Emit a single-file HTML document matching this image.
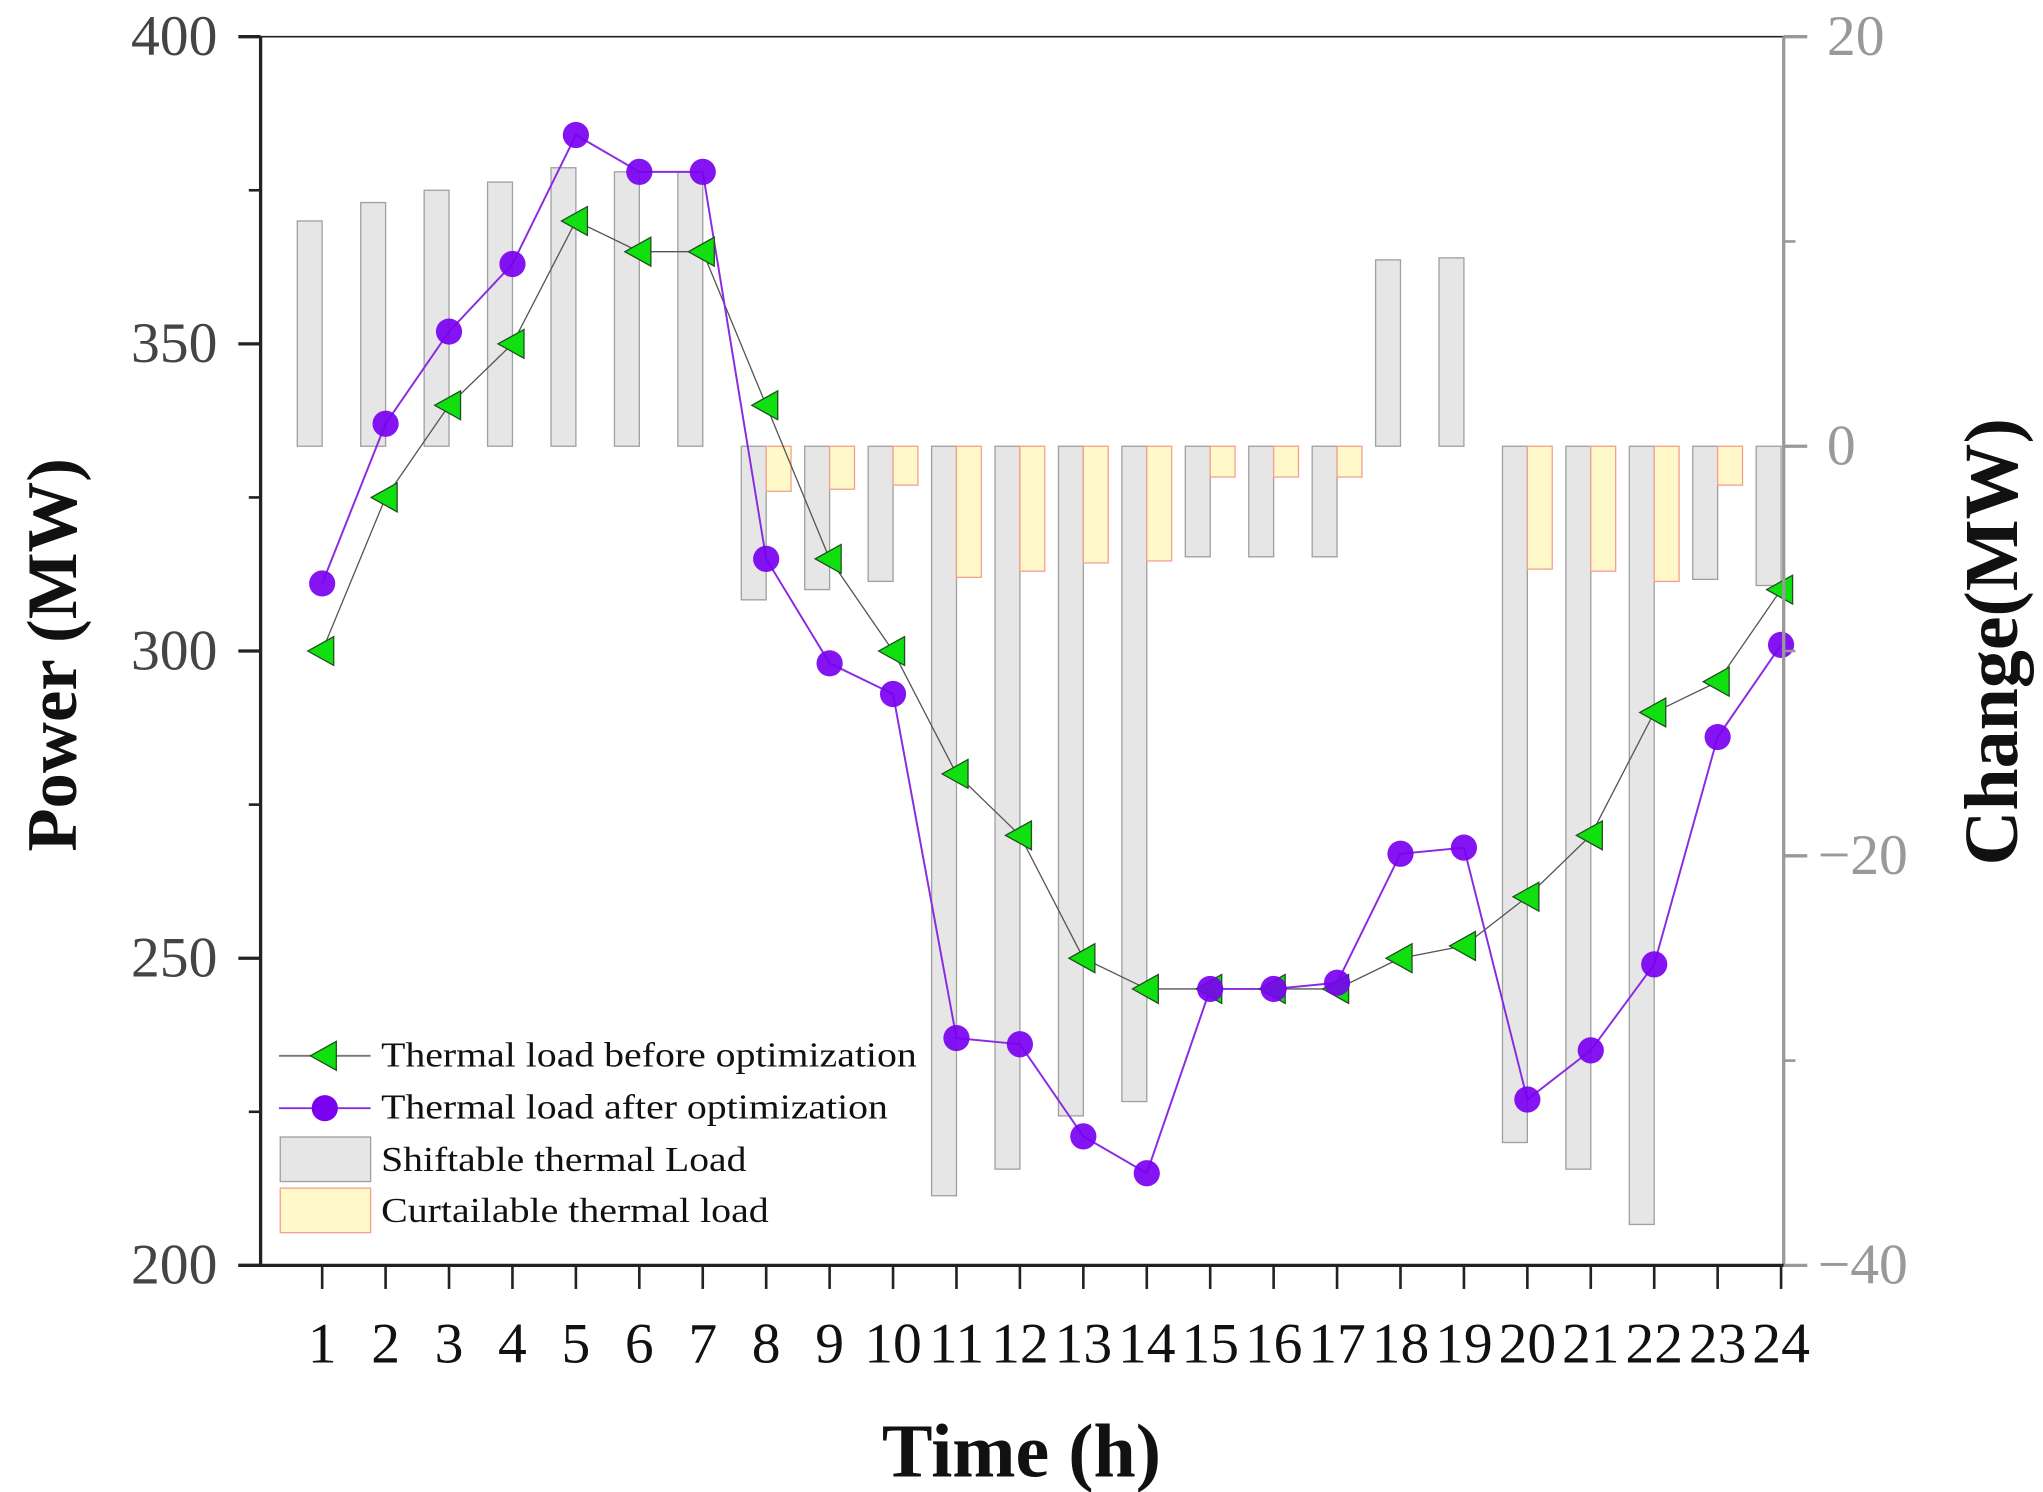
<!DOCTYPE html>
<html><head><meta charset="utf-8"><style>
html,body{margin:0;padding:0;background:#fff;}
svg{display:block;}
text{font-family:"Liberation Serif",serif;}
</style></head><body>
<svg id="chart" width="2043" height="1492" viewBox="0 0 1560 1139" preserveAspectRatio="none" xmlns="http://www.w3.org/2000/svg">
<g id="bars"></g>
<g id="lines"></g>
<g id="axes"></g>
<g id="legend"></g>
</svg>
<script>
const hours = [1,2,3,4,5,6,7,8,9,10,11,12,13,14,15,16,17,18,19,20,21,22,23,24];
const beforeLoad = [300,325,340,350,370,365,365,340,315,300,280,270,250,245,245,245,245,250,252,260,270,290,295,310];
const afterLoad = [311,337,352,363,384,378,378,315,298,293,237,236,221,215,245,245,246,267,268,227,235,249,286,301];
const shiftable = [11.0,11.9,12.5,12.9,13.6,13.4,13.4,-7.5,-7.0,-6.6,-36.6,-35.3,-32.7,-32.0,-5.4,-5.4,-5.4,9.1,9.2,-34.0,-35.3,-38.0,-6.5,-6.8];
const curtailable = [0,0,0,0,0,0,0,-2.2,-2.1,-1.9,-6.4,-6.1,-5.7,-5.6,-1.5,-1.5,-1.5,0,0,-6.0,-6.1,-6.6,-1.9,0];
const leftTicks = [200,250,300,350,400];
const rightTicks = [-40,-20,0,20];

const NS='http://www.w3.org/2000/svg';
const L=199,R=1362,T=28,B=966;
const xS=h=>246+(h-1)*(1360-246)/23;
const yL=v=>B-(v-200)*(B-T)/200;
const yR=v=>B-(v+40)*(B-T)/60;
function mk(tag,attrs,parent,txt){const e=document.createElementNS(NS,tag);for(const k in attrs)e.setAttribute(k,attrs[k]);if(txt!==undefined)e.textContent=txt;parent.appendChild(e);return e;}
const gB=document.getElementById('bars'),gL=document.getElementById('lines'),gA=document.getElementById('axes'),gG=document.getElementById('legend');

hours.forEach((h,i)=>{
  const x=xS(h);
  const y0=yR(0),y1=yR(shiftable[i]);
  const r=mk('rect',{x:x-19,y:Math.min(y0,y1),width:Math.min(19,R-(x-19)),height:Math.abs(y1-y0),fill:'#e6e6e6',stroke:'#a0a0a0','stroke-width':1},gB);
  
  
  if(curtailable[i]!==0){
    const y2=yR(curtailable[i]);
    const c=mk('rect',{x:x,y:Math.min(y0,y2),width:19,height:Math.abs(y2-y0),fill:'#fff8c8',stroke:'#f4a090','stroke-width':1},gB);
    
    
  }
});

function tri(x,y,s){return `${x-s},${y} ${x+s*0.8},${y-s} ${x+s*0.8},${y+s}`;}
const p1=mk('polyline',{points:hours.map((h,i)=>xS(h)+','+yL(beforeLoad[i])).join(' '),fill:'none',stroke:'#555','stroke-width':1},gL);


const p2=mk('polyline',{points:hours.map((h,i)=>xS(h)+','+yL(afterLoad[i])).join(' '),fill:'none',stroke:'#8a2be2','stroke-width':1.5},gL);


hours.forEach((h,i)=>{
  const t=mk('polygon',{points:tri(xS(h),yL(beforeLoad[i]),11),fill:'#10e010',stroke:'#205020','stroke-width':1},gL);
  
  
  const c=mk('circle',{cx:xS(h),cy:yL(afterLoad[i]),r:10,fill:'#7a00f0','fill-opacity':0.92},gL);
  
  
});

mk('line',{x1:L,y1:T,x2:R,y2:T,stroke:'#222','stroke-width':1.2},gA);
const la=mk('line',{x1:L,y1:T,x2:L,y2:B,stroke:'#222','stroke-width':2.5},gA);

const ra=mk('line',{x1:R,y1:T,x2:R,y2:B,stroke:'#999','stroke-width':2.5},gA);

const xa=mk('line',{x1:182,y1:B,x2:R,y2:B,stroke:'#222','stroke-width':2.5},gA);

leftTicks.forEach(v=>{
  mk('line',{x1:182,y1:yL(v),x2:L,y2:yL(v),stroke:'#222','stroke-width':2.5},gA);
  const t=mk('text',{x:166,y:yL(v)+14,'text-anchor':'end','font-size':44,fill:'#444'},gA,String(v));
  
});
[225,275,325,375].forEach(v=>mk('line',{x1:190,y1:yL(v),x2:L,y2:yL(v),stroke:'#222','stroke-width':2},gA));
rightTicks.forEach(v=>{
  mk('line',{x1:R,y1:yR(v),x2:R+18,y2:yR(v),stroke:'#999','stroke-width':2.5},gA);
  const t=mk('text',{x:v<0?1388:1395,y:yR(v)+14,'font-size':44,fill:'#999'},gA,v<0?'\u2212'+Math.abs(v):String(v));
  
});
[-30,-10,10].forEach(v=>mk('line',{x1:R,y1:yR(v),x2:R+9,y2:yR(v),stroke:'#999','stroke-width':2},gA));
hours.forEach(h=>{
  mk('line',{x1:xS(h),y1:B,x2:xS(h),y2:B+18,stroke:'#222','stroke-width':2},gA);
  const t=mk('text',{x:xS(h),y:1040,'text-anchor':'middle','font-size':44,fill:'#111'},gA,String(h));
  
});
let t;
t=mk('text',{x:0,y:0,transform:'translate(58,500) rotate(-90)','text-anchor':'middle','font-size':54,'font-weight':'bold',fill:'#111'},gA,'Power (MW)');

t=mk('text',{x:0,y:0,transform:'translate(1540,490) rotate(-90)','text-anchor':'middle','font-size':58,'font-weight':'bold',fill:'#111'},gA,'Change(MW)');

t=mk('text',{x:780,y:1127,'text-anchor':'middle','font-size':58,'font-weight':'bold',fill:'#111'},gA,'Time (h)');


mk('line',{x1:213,y1:806,x2:283,y2:806,stroke:'#777','stroke-width':1.5},gG);
mk('polygon',{points:tri(248,806,11),fill:'#10e010',stroke:'#205020','stroke-width':1},gG);
mk('line',{x1:213,y1:846,x2:283,y2:846,stroke:'#8a2be2','stroke-width':1.5},gG);
mk('circle',{cx:248,cy:846,r:10,fill:'#7a00f0'},gG);
mk('rect',{x:214,y:868,width:69,height:34,fill:'#e6e6e6',stroke:'#a0a0a0'},gG);
mk('rect',{x:214,y:907,width:69,height:34,fill:'#fff8c8',stroke:'#f4a090'},gG);
[['Thermal load before optimization',814,409],['Thermal load after optimization',854,387],['Shiftable thermal Load',894,279],['Curtailable thermal load',933,296]].forEach(([s,y,w])=>{
  const e=mk('text',{x:291,y:y,'font-size':27,fill:'#111',textLength:w,lengthAdjust:'spacingAndGlyphs'},gG,s);
  
});
</script>
</body></html>
